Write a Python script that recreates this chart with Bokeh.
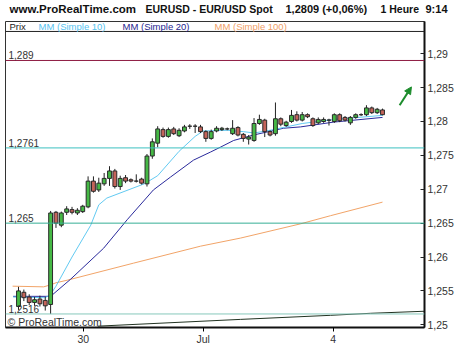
from bokeh.plotting import figure
from bokeh.layouts import column
from bokeh.models import Span, Label, Arrow, NormalHead, FixedTicker, Range1d, ColumnDataSource
from bokeh.embed import file_html
from bokeh.resources import INLINE

# ---------------- data ----------------
opens = [1.2527, 1.2548, 1.2541, 1.2533, 1.2538, 1.2536, 1.2530, 1.2666, 1.2647, 1.2666,
         1.2670, 1.2665, 1.2667, 1.2674, 1.2712, 1.2699, 1.2708, 1.2716, 1.2727, 1.2704,
         1.2717, 1.2714, 1.2712, 1.2715, 1.2708, 1.2749, 1.2768, 1.2788, 1.2778, 1.2789,
         1.2779, 1.2786, 1.2793, 1.2793, 1.2792, 1.2785, 1.2775, 1.2786, 1.2788, 1.2789,
         1.2782, 1.2791, 1.2781, 1.2774, 1.2772, 1.2797, 1.2802, 1.2785, 1.2782, 1.2804,
         1.2794, 1.2800, 1.2810, 1.2802, 1.2810, 1.2804, 1.2798, 1.2800, 1.2802, 1.2800,
         1.2810, 1.2806, 1.2798, 1.2806, 1.2810, 1.2810, 1.2820, 1.2813, 1.2817]
highs = [1.2556, 1.2552, 1.2545, 1.2541, 1.2543, 1.2541, 1.2668, 1.2668, 1.2667, 1.2675,
         1.2674, 1.2672, 1.2677, 1.2719, 1.2719, 1.2717, 1.2724, 1.2734, 1.2730, 1.2720,
         1.2721, 1.2716, 1.2722, 1.2717, 1.2752, 1.2775, 1.2793, 1.2791, 1.2791, 1.2792,
         1.2790, 1.2795, 1.2796, 1.2796, 1.2795, 1.2787, 1.2788, 1.2793, 1.2792, 1.2791,
         1.2802, 1.2793, 1.2783, 1.2780, 1.2805, 1.2810, 1.2804, 1.2787, 1.2828, 1.2806,
         1.2801, 1.2817, 1.2815, 1.2814, 1.2812, 1.2806, 1.2806, 1.2806, 1.2804, 1.2812,
         1.2812, 1.2808, 1.2808, 1.2812, 1.2812, 1.2824, 1.2822, 1.2820, 1.2819]
lows = [1.2522, 1.2535, 1.2529, 1.2528, 1.2527, 1.2521, 1.2516, 1.2643, 1.2644, 1.2662,
        1.2663, 1.2662, 1.2665, 1.2672, 1.2695, 1.2696, 1.2705, 1.2705, 1.2701, 1.2699,
        1.2709, 1.2710, 1.2710, 1.2707, 1.2704, 1.2745, 1.2762, 1.2776, 1.2776, 1.2780,
        1.2777, 1.2784, 1.2789, 1.2783, 1.2783, 1.2770, 1.2773, 1.2784, 1.2786, 1.2787,
        1.2780, 1.2778, 1.2770, 1.2766, 1.2770, 1.2795, 1.2777, 1.2778, 1.2779, 1.2793,
        1.2792, 1.2798, 1.2800, 1.2800, 1.2805, 1.2792, 1.2796, 1.2798, 1.2794, 1.2798,
        1.2799, 1.2800, 1.2795, 1.2804, 1.2808, 1.2808, 1.2811, 1.2811, 1.2809]
closes = [1.2550, 1.2540, 1.2533, 1.2537, 1.2531, 1.2528, 1.2665, 1.2650, 1.2665, 1.2671,
          1.2666, 1.2669, 1.2675, 1.2712, 1.2697, 1.2709, 1.2716, 1.2727, 1.2704, 1.2716,
          1.2712, 1.2712, 1.2712, 1.2709, 1.2749, 1.2770, 1.2789, 1.2778, 1.2788, 1.2782,
          1.2787, 1.2792, 1.2793, 1.2793, 1.2785, 1.2775, 1.2785, 1.2790, 1.2790, 1.2789,
          1.2790, 1.2780, 1.2775, 1.2777, 1.2797, 1.2803, 1.2785, 1.2780, 1.2804, 1.2796,
          1.2799, 1.2809, 1.2802, 1.2810, 1.2807, 1.2794, 1.2803, 1.2803, 1.2802, 1.2810,
          1.2801, 1.2802, 1.2806, 1.2810, 1.2810, 1.2820, 1.2813, 1.2818, 1.2810]

ma10_x = [-1, 5, 6, 7, 10, 13.5, 15, 16.5, 23.5, 26, 30, 33, 34.5, 39, 42, 44, 47, 53, 59, 68]
ma10_y = [1.2541, 1.2540, 1.2545, 1.2557, 1.2600, 1.2647, 1.2677, 1.2687, 1.2708, 1.2720,
          1.2756, 1.2778, 1.2786, 1.2787, 1.2785, 1.2783, 1.2787, 1.2797, 1.2803, 1.2809]
ma20_x = [-1, 6, 9.7, 15.9, 20.3, 25.2, 28.4, 32.7, 35.9, 37.7, 40.2, 43.9, 49.5, 52.7, 58.8, 68]
ma20_y = [1.2542, 1.2542, 1.2567, 1.2613, 1.2655, 1.2699, 1.2718, 1.2743, 1.2755, 1.2762,
          1.2772, 1.2780, 1.2790, 1.2792, 1.2799, 1.2806]
ma100_x = [-1.1, 4.7, 6, 7, 9.2, 21.5, 34, 41.5, 52.7, 58.3, 68]
ma100_y = [1.2557, 1.2556, 1.2559, 1.2562, 1.2566, 1.2591, 1.2616, 1.2628, 1.2649, 1.2661, 1.2681]

trend_x = [14.8, 41.5, 58.3, 65.8, 75.8]
trend_y = [1.2498, 1.2508, 1.2514, 1.2517, 1.2520]

levels = [1.289, 1.2761, 1.265, 1.2516]
level_labels = ["1,289", "1,2761", "1,265", "1,2516"]
level_colors = ["#8E1C42", "#3CC0C0", "#36AE96", "#86C8BC"]

y_ticks = [1.25, 1.255, 1.26, 1.265, 1.27, 1.275, 1.28, 1.285, 1.29]
y_tick_labels = ["1,25", "1,255", "1,26", "1,265", "1,27", "1,275", "1,28", "1,285", "1,29"]
x_ticks = [12.1, 34.5, 58.8]
x_tick_labels = ["30", "Jul", "4"]

arrow_x = [71.2, 73.4]
arrow_y = [1.2824, 1.2851]

header = ["www.ProRealTime.com", "EURUSD - EUR/USD Spot", "1,2809 (+0,06%)", "1 Heure", "9:14"]
header_px = [9, 145, 285, 380, 425]
header_sizes = ["11.5px", "10.5px", "11px", "10.5px", "11px"]
legend_texts = ["Prix", "MM (Simple 10)", "MM (Simple 20)", "MM (Simple 100)"]
legend_colors = ["#222222", "#55C3F0", "#1E1E90", "#F0A068"]

GREEN = "#45B845"
RED = "#C4645A"
C10 = "#62CAF2"
C20 = "#2A2A9C"
C100 = "#F2A468"


# pixel helpers for placing text (layout only)
def dx(px):
    return (px - 18) / 5.353


def dy(py):
    return 1.265 + (223.3 - py) / 6800.0


# ---------------- header strip ----------------
h = figure(width=469, height=21, output_backend="svg", toolbar_location=None, title=None,
           x_range=Range1d(0, 469), y_range=Range1d(0, 21),
           x_axis_location=None, y_axis_location=None,
           min_border_left=0, min_border_right=0, min_border_top=0, min_border_bottom=0)
h.frame_align = False
h.xgrid.visible = False
h.ygrid.visible = False
h.outline_line_color = None
h.border_fill_color = "white"
for txt, px, fs in zip(header, header_px, header_sizes):
    h.add_layout(Label(x=px, y=21 - 8.5, text=txt, text_font="Liberation Sans",
                       text_font_style="bold", text_font_size=fs, text_color="#111111",
                       text_baseline="middle"))

# ---------------- main chart ----------------
p = figure(width=469, height=326, output_backend="svg", toolbar_location=None, title=None,
           x_range=Range1d(dx(5), dx(424)), y_range=Range1d(dy(328), dy(21)),
           y_axis_location="right", min_border_left=5, min_border_right=45,
           min_border_top=0, min_border_bottom=19)
p.frame_align = False
p.xgrid.visible = False
p.ygrid.visible = False
p.background_fill_color = "white"
p.border_fill_color = "white"
p.outline_line_color = "#333333"
p.outline_line_width = 1

yax = p.yaxis[0]
yax.ticker = FixedTicker(ticks=y_ticks)
yax.major_label_overrides = dict(zip(y_ticks, y_tick_labels))
yax.minor_tick_line_color = None
yax.major_tick_in = 4
yax.major_tick_out = 0
yax.axis_line_width = 2
yax.axis_line_color = "#111111"
yax.major_tick_line_color = "#222222"
yax.major_label_text_font = "Liberation Sans"
yax.major_label_text_font_size = "10.5px"
yax.major_label_text_color = "#333333"
yax.major_label_standoff = 3

xax = p.xaxis[0]
xax.ticker = FixedTicker(ticks=x_ticks)
xax.major_label_overrides = dict(zip(x_ticks, x_tick_labels))
xax.minor_tick_line_color = None
xax.major_tick_in = 0
xax.major_tick_out = 4
xax.axis_line_width = 2
xax.axis_line_color = "#111111"
xax.major_label_text_font = "Liberation Sans"
xax.major_label_text_font_size = "10.5px"
xax.major_label_text_color = "#333333"
xax.major_label_standoff = 1

# legend band separator
p.add_layout(Span(location=dy(31), dimension="width", line_color="#222222", line_width=1))

# horizontal levels
for lv, lab, col in zip(levels, level_labels, level_colors):
    p.add_layout(Span(location=lv, dimension="width", line_color=col, line_width=1))
    p.add_layout(Label(x=dx(8), y=lv, y_offset=1, text=lab, text_font="Liberation Sans",
                       text_font_size="10px", text_color="#333333", text_baseline="bottom"))

# moving averages and trend line
p.line(ma100_x, ma100_y, line_color=C100, line_width=1)
p.line(ma20_x, ma20_y, line_color=C20, line_width=1)
p.line(ma10_x, ma10_y, line_color=C10, line_width=1)
p.line(trend_x, trend_y, line_color="#223322", line_width=1)

# candles
idx = list(range(len(opens)))
src = ColumnDataSource(dict(
    x=idx, high=highs, low=lows,
    top=[max(o, c) for o, c in zip(opens, closes)],
    bottom=[min(o, c) for o, c in zip(opens, closes)],
    color=[GREEN if c > o else (RED if c < o else "#222222") for o, c in zip(opens, closes)],
))
p.segment(x0="x", y0="high", x1="x", y1="low", source=src, line_color="#222222", line_width=1)
p.vbar(x="x", width=0.72, top="top", bottom="bottom", source=src, fill_color="color",
       line_color="#2a2a2a", line_width=1)

# arrow
p.add_layout(Arrow(end=NormalHead(size=7, fill_color="#1C8C2C", line_color="#1C8C2C"),
                   x_start=arrow_x[0], y_start=arrow_y[0], x_end=arrow_x[1], y_end=arrow_y[1],
                   line_color="#1C8C2C", line_width=2))

# legend texts
for txt, col, px in zip(legend_texts, legend_colors, [9, 38, 122, 214]):
    p.add_layout(Label(x=dx(px), y=dy(26), text=txt, text_font="Liberation Sans",
                       text_font_size="9.5px", text_color=col, text_baseline="middle"))

# copyright
p.add_layout(Label(x=dx(7), y=dy(322.5), text="\u00a9 ProRealTime.com", text_font="Liberation Sans",
                   text_font_size="10.5px", text_color="#333333", text_baseline="middle"))

layout = column(h, p, spacing=0)
open("out.html", "w").write(file_html(layout, INLINE))
